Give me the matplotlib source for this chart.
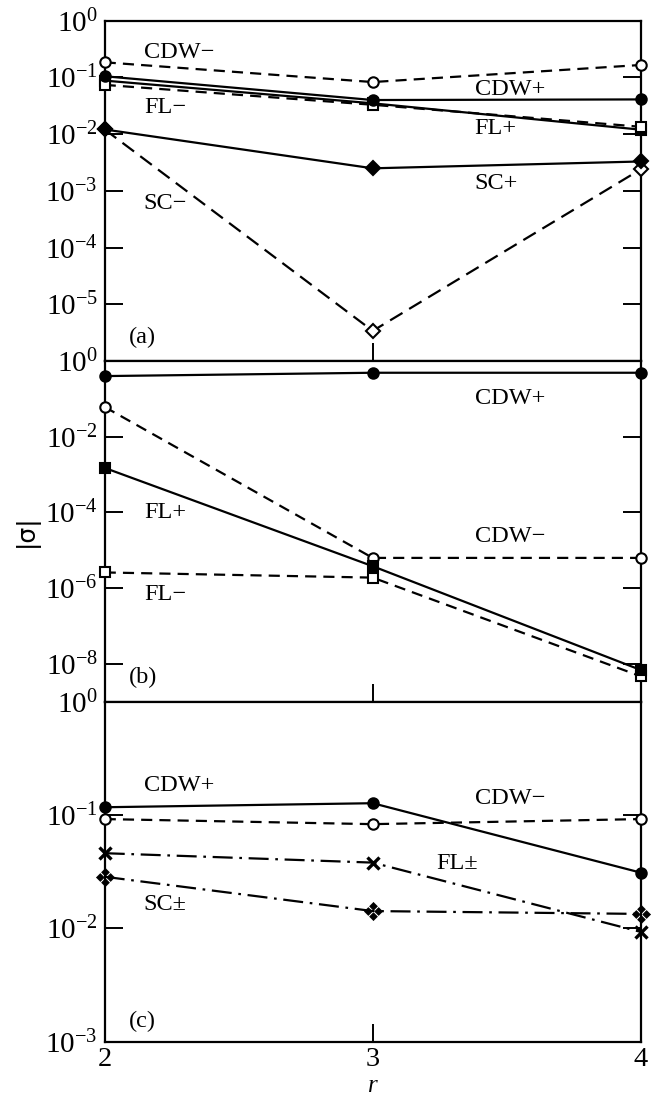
import matplotlib
matplotlib.use("Agg")
import matplotlib.pyplot as plt
from matplotlib.path import Path

plt.rcParams['font.family'] = ['Liberation Serif', 'DejaVu Serif']
plt.rcParams['mathtext.fontset'] = 'custom'
plt.rcParams['mathtext.rm'] = 'Liberation Serif'
plt.rcParams['mathtext.it'] = 'Liberation Serif:italic'

r = [2, 3, 4]

# panel (a)
a_cdw_plus = [0.105, 0.040, 0.041]
a_cdw_minus = [0.185, 0.083, 0.166]
a_fl_plus = [0.088, 0.035, 0.012]
a_fl_minus = [0.074, 0.033, 0.0135]
a_sc_plus = [0.0121, 0.0025, 0.0033]
a_sc_minus = [0.0121, 3.4e-6, 0.0024]

# panel (b)
b_cdw_plus = [0.40, 0.49, 0.49]
b_cdw_minus = [0.061, 6.3e-6, 6.3e-6]
b_fl_plus = [1.5e-3, 3.8e-6, 6.9e-9]
b_fl_minus = [2.6e-6, 1.9e-6, 4.7e-9]

# panel (c)
c_cdw_plus = [0.117, 0.127, 0.031]
c_cdw_minus = [0.092, 0.083, 0.092]
c_fl = [0.046, 0.038, 0.0093]
c_sc = [0.0285, 0.0142, 0.0134]

a_ticks = [0, -1, -2, -3, -4, -5, -6]
b_ticks = [0, -2, -4, -6, -8, -9]
c_ticks = [0, -1, -2, -3]


# marker made of four small diamonds
def quad_diamond():
    verts, codes = [], []
    d = 0.75
    for cx, cy in [(0, 1), (1, 0), (0, -1), (-1, 0)]:
        verts += [(cx, cy + d), (cx + d, cy), (cx, cy - d), (cx - d, cy), (cx, cy + d)]
        codes += [Path.MOVETO, Path.LINETO, Path.LINETO, Path.LINETO, Path.CLOSEPOLY]
    return Path(verts, codes)


LW = 1.6
SHORT = (0, (5, 3.2))
LONG = (0, (6.5, 3.5))
DASHDOT = (0, (9, 3, 1.2, 3))


def line(ax, y, ls, marker, filled, ms=7.5, mew=1.5):
    ax.plot(r, y, color='black', ls=ls, lw=LW, marker=marker, ms=ms,
            mfc='black' if filled else 'white', mec='black', mew=mew,
            clip_on=False, zorder=3)


def style(ax, exps, lo, labels_x=False):
    ax.set_yscale('log')
    ax.set_xlim(2, 4)
    ax.set_ylim(10.0 ** lo, 1)
    ticks = [10.0 ** e for e in exps]
    labels = ['$10^{%d}$' % e if e != lo or labels_x else '' for e in exps]
    ax.set_yticks(ticks, labels)
    ax.minorticks_off()
    ax.set_xticks([2, 3, 4])
    if not labels_x:
        ax.set_xticklabels([])
    ax.tick_params(axis='y', which='major', direction='in', length=13, width=1.4,
                   left=True, right=True, labelsize=21, pad=5)
    ax.tick_params(axis='x', which='major', direction='in', length=13, width=1.4,
                   bottom=True, top=False, labelsize=20.5, pad=4)
    for s in ax.spines.values():
        s.set_linewidth(1.6)


def label(ax, x, y, s):
    ax.text(x, y, s, transform=ax.transAxes, fontsize=17.5, ha='left', va='center')


fig = plt.figure(figsize=(6.67, 10.98), dpi=100)
L, W = 0.157, 0.8036
ax_a = fig.add_axes([L, 0.6712, W, 0.3099])
ax_b = fig.add_axes([L, 0.3609, W, 0.3103])
ax_c = fig.add_axes([L, 0.0513, W, 0.3097])

# (a)
line(ax_a, a_cdw_minus, SHORT, 'o', False)
line(ax_a, a_fl_plus, '-', 's', True, ms=7)
line(ax_a, a_fl_minus, SHORT, 's', False, ms=7)
line(ax_a, a_cdw_plus, '-', 'o', True)
line(ax_a, a_sc_minus, LONG, 'D', False, ms=7)
line(ax_a, a_sc_plus, '-', 'D', True, ms=7)
style(ax_a, a_ticks, -6)
label(ax_a, 0.073, 0.908, 'CDW−')
label(ax_a, 0.073, 0.746, 'FL−')
label(ax_a, 0.073, 0.464, 'SC−')
label(ax_a, 0.690, 0.799, 'CDW+')
label(ax_a, 0.690, 0.682, 'FL+')
label(ax_a, 0.690, 0.523, 'SC+')
label(ax_a, 0.045, 0.068, '(a)')

# (b)
line(ax_b, b_cdw_plus, '-', 'o', True)
line(ax_b, b_cdw_minus, SHORT, 'o', False)
line(ax_b, b_fl_minus, SHORT, 's', False, ms=7)
line(ax_b, b_fl_plus, '-', 's', True, ms=7)
style(ax_b, b_ticks, -9)
label(ax_b, 0.690, 0.890, 'CDW+')
label(ax_b, 0.073, 0.555, 'FL+')
label(ax_b, 0.690, 0.485, 'CDW−')
label(ax_b, 0.073, 0.314, 'FL−')
label(ax_b, 0.045, 0.070, '(b)')

# (c)
line(ax_c, c_cdw_plus, '-', 'o', True)
line(ax_c, c_cdw_minus, SHORT, 'o', False)
line(ax_c, c_fl, DASHDOT, 'x', False, ms=8.5, mew=2.4)
line(ax_c, c_sc, DASHDOT, quad_diamond(), True, ms=13, mew=0.5)
style(ax_c, c_ticks, -3, labels_x=True)
label(ax_c, 0.073, 0.752, 'CDW+')
label(ax_c, 0.690, 0.714, 'CDW−')
label(ax_c, 0.618, 0.523, 'FL±')
label(ax_c, 0.073, 0.402, 'SC±')
label(ax_c, 0.045, 0.058, '(c)')

fig.text(L + W / 2, 0.001, 'r', fontsize=18, style='italic', ha='center', va='bottom')
fig.text(0.039, 0.517, '|σ|', rotation=90, fontsize=18, family='DejaVu Sans',
         ha='center', va='center')

fig.savefig('out.png', dpi=100)
